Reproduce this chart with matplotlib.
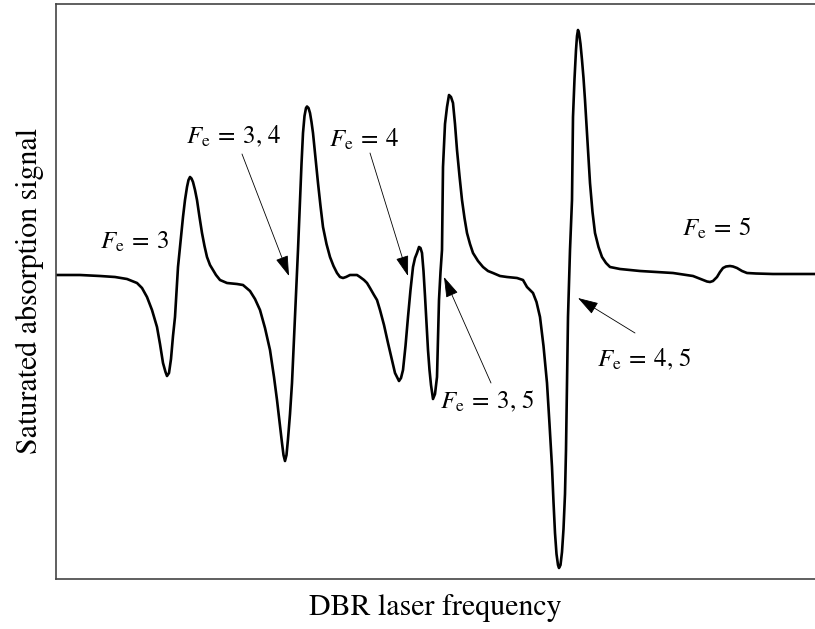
import numpy as np
import matplotlib.pyplot as plt

plt.rcParams['font.family'] = 'STIXGeneral'
plt.rcParams['mathtext.fontset'] = 'stix'

# DBR laser sweep (arbitrary frequency units) and saturated absorption signal (arb. units)
freq = [0, 24, 44, 59, 71, 81, 86, 91, 96, 101, 104, 107, 109.5, 111, 113, 115, 117, 119, 122,
        124.5, 127, 129, 131, 132.5, 134, 135.5, 137, 139, 141, 143.5, 146, 148.5, 151, 154, 157, 160, 164,
        171, 181, 187, 194, 199, 204, 209, 214, 218, 221, 224, 226, 227.5, 229, 230.5, 232, 234, 236, 239,
        242, 244, 245.5, 247, 248.5, 250, 251, 252.5, 254, 255.5, 257, 259.5, 262, 264.5, 267, 270.5,
        274, 277.5, 281, 284, 287, 290, 294, 301, 304, 308, 311, 314, 318, 321, 324, 328, 332, 336,
        339, 341.5, 343, 345, 347, 349.5, 352, 354.5, 357, 359, 361, 363, 364.5, 366, 367.5, 369, 370.5, 372,
        373.5, 375, 377, 379, 381, 383, 384.5, 386, 387, 389, 391, 393, 395, 397, 399, 401, 403.5, 406,
        408.5, 411, 414, 417, 422, 427, 432, 437, 444, 451, 461, 467, 471, 477, 480.5, 484, 487.5, 491,
        493.5, 496, 497.5, 499, 500.5, 502, 503, 504.5, 506, 507.5, 509, 510, 511, 512, 514, 515, 516,
        516.5, 517, 518.5, 520, 521, 522, 523, 524.5, 526, 527.5, 529, 531.5, 534, 536.5, 539, 542.5,
        546, 550, 554, 564, 584, 617, 637, 642, 647, 651, 654, 657, 661, 664, 667, 670, 674, 677, 681,
        686, 691, 700, 717, 759]
signal = [-1, -1, -2, -3, -5, -9, -14, -23, -36, -53, -70, -89, -98, -102, -99, -85, -62, -43, 7,
          32, 57, 74, 87, 94, 97, 95.5, 92, 84, 74, 57, 41, 28, 17, 9, 4, -1, -6,
          -9, -10, -11, -17, -25, -36, -54, -76, -103, -126, -152, -169, -181, -187, -181, -165, -140, -109, -43,
          24, 74, 110, 141, 158, 166, 167.5, 166, 161, 152, 141, 116, 91, 68, 47, 30,
          17, 8, 1, -3, -4, -3, -1, -1, -3, -6, -9, -14, -21, -26, -36, -51, -69, -86,
          -99, -104, -107, -104, -96, -72, -43, -16, 7, 16, 21, 27, 26, 21, 3, -22, -50, -76,
          -96, -111, -125, -120, -103, -26, 2, 24, 107, 150, 167, 179, 177, 171, 150, 124, 98, 74,
          56, 41, 30, 21, 13, 7, 3, 1, -2, -3, -4, -6, -13, -19, -28, -43, -72, -109,
          -150, -193, -228, -259, -280, -291, -294, -291, -278, -255, -220, -176, -110, -43, 24, 50, 74,
          115, 157, 195, 224, 238, 244, 241, 230, 214, 196, 174, 132, 91, 62, 41, 27,
          17, 11, 7, 5, 3, 1, -2, -4, -6, -7.5, -8, -7, -3, 2, 6, 7.5, 8, 7.5, 6,
          3, 1, 0.5, 0, 0]

# hyperfine transitions: label text, arrow tip, arrow tail, label centre
labels = [r'$F_\mathrm{e}\:=\:3,\,4$', r'$F_\mathrm{e}\:=\:4$',
          r'$F_\mathrm{e}\:=\:3,\,5$', r'$F_\mathrm{e}\:=\:4,\,5$']
tips = [(233, -2), (352, -2), (388, -3), (522, -24)]
tails = [(186, 120), (314, 121), (435, -109), (579, -59)]
label_pos = [(178, 137), (308, 134), (431, -128), (588, -86)]

fig = plt.figure(figsize=(8.15, 6.29), dpi=100)
ax = fig.add_axes([56 / 815, 50 / 629, 1 - 56 / 815, 575 / 629])

ax.plot(freq, signal, color='black', lw=1.9, solid_joinstyle='round')

ax.text(79, 31, r'$F_\mathrm{e}\:=\:3$', fontsize=18, ha='center', va='center')
ax.text(661, 45, r'$F_\mathrm{e}\:=\:5$', fontsize=18, ha='center', va='center')

for lab, tip, tail, pos in zip(labels, tips, tails, label_pos):
    ax.text(pos[0], pos[1], lab, fontsize=18, ha='center', va='center')
    ax.annotate('', xy=tip, xytext=tail,
                arrowprops=dict(arrowstyle='-|>,head_length=0.8,head_width=0.25',
                                mutation_scale=16, lw=0.6, color='black',
                                shrinkA=0, shrinkB=0))

ax.set_xlim(0, 759)
ax.set_ylim(-305, 270)
ax.set_xticks([])
ax.set_yticks([])
ax.spines['right'].set_visible(False)
for s in ['left', 'top', 'bottom']:
    ax.spines[s].set_linewidth(1.2)
    ax.spines[s].set_color('#444444')

ax.set_xlabel('DBR laser frequency', fontsize=21.5, labelpad=11)
ax.set_ylabel('Saturated absorption signal', fontsize=21.5, labelpad=9)

fig.savefig('out.png', dpi=100)
